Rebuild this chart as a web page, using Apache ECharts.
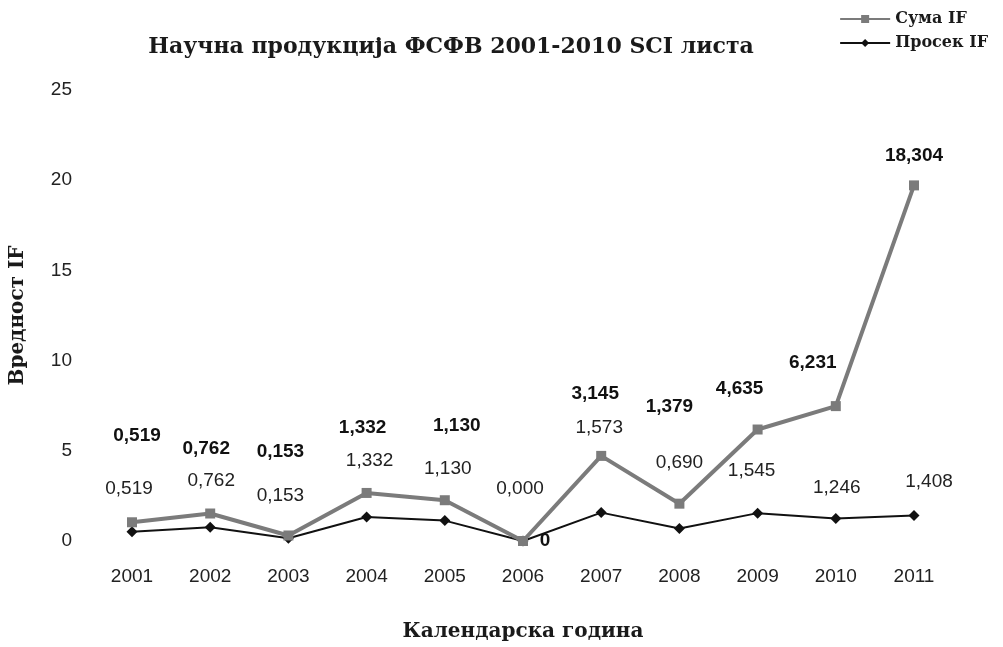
<!DOCTYPE html>
<html>
<head>
<meta charset="utf-8">
<title>Научна продукција ФСФВ</title>
<script src="https://cdn.jsdelivr.net/npm/echarts@6/dist/echarts.min.js"></script>
<style>
  html, body { margin: 0; padding: 0; background: #fff; }
  #chart { width: 1003px; height: 647px; }
</style>
</head>
<body>
<div id="chart"></div>
<script>
const years = ["2001", "2002", "2003", "2004", "2005", "2006", "2007", "2008", "2009", "2010", "2011"];
// Сума IF is drawn stacked on top of Просек IF, as in the original
const sumIF = [0.519, 0.762, 0.153, 1.332, 1.130, 0, 3.145, 1.379, 4.635, 6.231, 18.304];
const avgIF = [0.519, 0.762, 0.153, 1.332, 1.130, 0, 1.573, 0.690, 1.545, 1.246, 1.408];
const yTicks = { min: 0, max: 25, interval: 5 };

// hand placed value labels (pixel shift from the point)
const sumLabelShift = [[5, -87], [-4, -65], [-8, -84], [-4, -65], [12, -74], [22, 0],
  [-6, -62], [-10, -97], [-18, -41], [-23, -43], [0, -30]];
const avgLabelShift = [[-3, -43], [1, -46], [-8, -42], [3, -56], [3, -52], [-3, -52],
  [-2, -85], [0, -66], [-6, -42], [1, -31], [15, -34]];

const fmt = v => v.toFixed(3).replace(".", ",");
const serif = "'DejaVu Serif', 'Liberation Serif', serif";
const sans = "'Liberation Sans', Arial, sans-serif";

function withLabels(values, shifts, bold, zeroText) {
  return values.map((v, i) => ({
    value: v,
    label: {
      show: true,
      position: "inside",
      offset: shifts[i],
      fontWeight: bold ? "bold" : "normal",
      formatter: () => (v === 0 && zeroText ? zeroText : fmt(v))
    }
  }));
}

const chart = echarts.init(document.getElementById("chart"));
chart.setOption({
  backgroundColor: "#fff",
  animation: false,
  title: {
    text: "Научна продукција ФСФВ 2001-2010 SCI листа",
    left: 446,
    top: 31,
    textAlign: "center",
    textStyle: { fontFamily: serif, fontWeight: "bold", fontSize: 22, color: "#1a1a1a" }
  },
  legend: {
    data: ["Сума IF", "Просек IF"],
    orient: "vertical",
    right: 10,
    top: 6,
    itemGap: 8,
    itemWidth: 50,
    itemHeight: 10,
    textStyle: { fontFamily: serif, fontWeight: "bold", fontSize: 16, color: "#1a1a1a" }
  },
  grid: { left: 127, right: 89, top: 90, bottom: 97 },
  xAxis: {
    type: "category",
    data: years,
    boundaryGap: false,
    name: "Календарска година",
    nameLocation: "middle",
    nameGap: 81,
    nameTextStyle: { fontFamily: serif, fontWeight: "bold", fontSize: 20, color: "#1a1a1a" },
    axisLine: { show: false },
    axisTick: { show: false },
    axisLabel: { margin: 26, fontFamily: sans, fontSize: 19, color: "#222" }
  },
  yAxis: {
    type: "value",
    min: yTicks.min,
    max: yTicks.max,
    interval: yTicks.interval,
    name: "Вредност IF",
    nameLocation: "middle",
    nameGap: 104,
    nameTextStyle: { fontFamily: serif, fontWeight: "bold", fontSize: 20, color: "#1a1a1a" },
    axisLine: { show: false },
    axisTick: { show: false },
    splitLine: { show: false },
    axisLabel: { margin: 60, fontFamily: sans, fontSize: 19, color: "#222" }
  },
  series: [
    {
      name: "Просек IF",
      type: "line",
      stack: "if",
      data: withLabels(avgIF, avgLabelShift, false),
      symbol: "diamond",
      symbolSize: 11,
      z: 2,
      lineStyle: { color: "#111", width: 2 },
      itemStyle: { color: "#111" },
      label: { fontFamily: sans, fontSize: 19, color: "#222" }
    },
    {
      name: "Сума IF",
      type: "line",
      stack: "if",
      data: withLabels(sumIF, sumLabelShift, true, "0"),
      symbol: "rect",
      symbolSize: 10,
      z: 3,
      lineStyle: { color: "#7b7b7b", width: 4 },
      itemStyle: { color: "#7b7b7b" },
      label: { fontFamily: sans, fontSize: 19, color: "#111" }
    }
  ]
});
</script>
</body>
</html>
